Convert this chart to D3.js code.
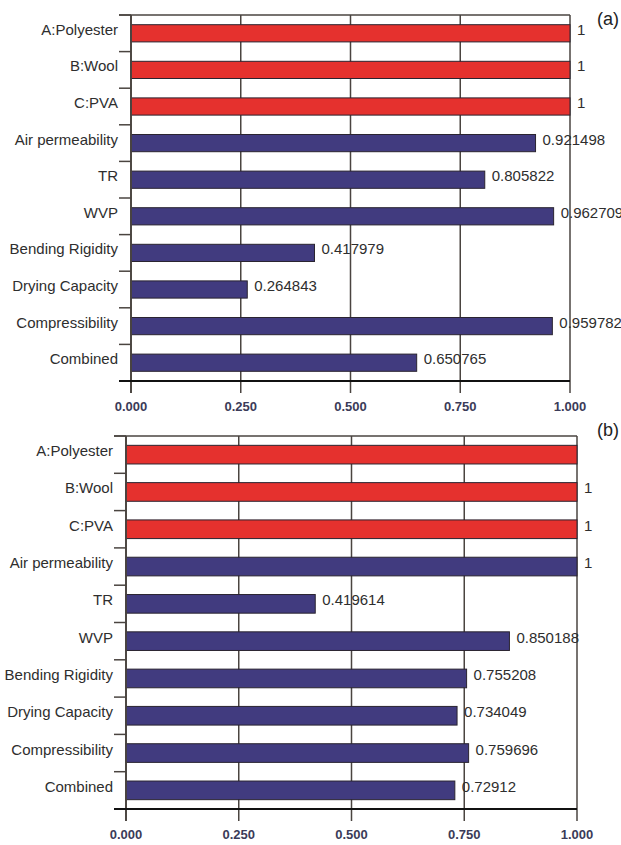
<!DOCTYPE html>
<html>
<head>
<meta charset="utf-8">
<script src="https://cdn.jsdelivr.net/npm/d3@7"></script>
<style>
  html, body { margin: 0; padding: 0; background: #fff; }
  svg { display: block; font-family: "Liberation Sans", Arial, sans-serif; }
</style>
</head>
<body>
<svg id="chart" width="621" height="845"></svg>
<script>
// Factor and response categories, top to bottom
const categories = ["A:Polyester", "B:Wool", "C:PVA", "Air permeability", "TR", "WVP",
  "Bending Rigidity", "Drying Capacity", "Compressibility", "Combined"];
// Which rows are fabric factors (drawn red) versus responses (drawn blue)
const factorRows = ["A:Polyester", "B:Wool", "C:PVA"];
// Desirability values, panel (a)
const valuesA = [1, 1, 1, 0.921498, 0.805822, 0.962709, 0.417979, 0.264843, 0.959782, 0.650765];
// Desirability values, panel (b)
const valuesB = [1, 1, 1, 1, 0.419614, 0.850188, 0.755208, 0.734049, 0.759696, 0.72912];
// Rows whose value is printed beside the bar (panel b's first row sits under its tag)
const labelledA = [true, true, true, true, true, true, true, true, true, true];
const labelledB = [false, true, true, true, true, true, true, true, true, true];
// Axis ticks
const xTicks = [0, 0.25, 0.5, 0.75, 1];

const svg = d3.select("#chart");
svg.append("rect").attr("width", 621).attr("height", 845).attr("fill", "#fff");

const RED = "#e5312e", BLUE = "#413b7f", LINE = "#4a4440", TEXT = "#2e2e2e";

function drawPanel(values, labelled, box, tag, tagY) {
  const g = svg.append("g");
  const x = d3.scaleLinear().domain([0, 1]).range([box.left, box.right]);
  const y = d3.scaleBand().domain(categories).range([box.top, box.bottom])
    .paddingInner(0).paddingOuter(0);
  const bw = y.bandwidth();
  const frac = box.frac;

  // vertical gridlines and ticks below the axis
  g.selectAll("line.grid").data(xTicks).join("line")
    .attr("x1", d => x(d)).attr("x2", d => x(d))
    .attr("y1", box.top).attr("y2", box.bottom + 12)
    .attr("stroke", LINE).attr("stroke-width", 1.5);

  // top border
  g.append("line").attr("x1", box.left - 12).attr("x2", box.right)
    .attr("y1", box.top).attr("y2", box.top)
    .attr("stroke", LINE).attr("stroke-width", 1.5);

  // category boundary ticks on the left
  const bounds = categories.map(c => y(c)).concat([box.bottom]);
  g.selectAll("line.ytick").data(bounds).join("line")
    .attr("x1", box.left - 12).attr("x2", box.left)
    .attr("y1", d => d).attr("y2", d => d)
    .attr("stroke", LINE).attr("stroke-width", 1.5);

  // bars
  g.selectAll("rect.bar").data(categories).join("rect")
    .attr("x", x(0))
    .attr("y", c => y(c) + bw * (1 - frac) / 2)
    .attr("width", (c, i) => x(values[i]) - x(0))
    .attr("height", bw * frac)
    .attr("fill", c => factorRows.includes(c) ? RED : BLUE)
    .attr("stroke", "#2a2430").attr("stroke-width", 1);

  // left axis line
  g.append("line").attr("x1", box.left).attr("x2", box.left)
    .attr("y1", box.top).attr("y2", box.bottom + 12)
    .attr("stroke", LINE).attr("stroke-width", 1.8);

  // bottom axis line
  g.append("line").attr("x1", box.left - 12).attr("x2", box.right)
    .attr("y1", box.bottom).attr("y2", box.bottom)
    .attr("stroke", "#111").attr("stroke-width", 2);

  // category labels
  g.selectAll("text.cat").data(categories).join("text")
    .attr("x", box.left - 13)
    .attr("y", c => y(c) + bw / 2 + 1.5)
    .attr("text-anchor", "end")
    .attr("font-size", 15)
    .attr("fill", TEXT)
    .text(c => c);

  // value labels
  g.selectAll("text.val").data(categories.filter((c, i) => labelled[i])).join("text")
    .attr("x", c => x(values[categories.indexOf(c)]) + 7)
    .attr("y", c => y(c) + bw / 2 + 1.5)
    .attr("font-size", 15)
    .attr("fill", TEXT)
    .text(c => String(values[categories.indexOf(c)]));

  // x tick labels
  const fmt = d3.format(".3f");
  g.selectAll("text.xt").data(xTicks).join("text")
    .attr("x", d => x(d))
    .attr("y", box.bottom + 30)
    .attr("text-anchor", "middle")
    .attr("font-size", 13)
    .attr("font-weight", "bold")
    .attr("fill", "#3b3b58")
    .text(d => fmt(d));

  // panel tag
  svg.append("text").attr("x", 608).attr("y", tagY)
    .attr("text-anchor", "middle").attr("font-size", 18)
    .attr("fill", "#222").text(tag);
}

drawPanel(valuesA, labelledA, { left: 131, right: 570, top: 15, bottom: 381, frac: 0.47 }, "(a)", 25);
drawPanel(valuesB, labelledB, { left: 126, right: 577, top: 436, bottom: 809, frac: 0.5 }, "(b)", 436);
</script>
</body>
</html>
